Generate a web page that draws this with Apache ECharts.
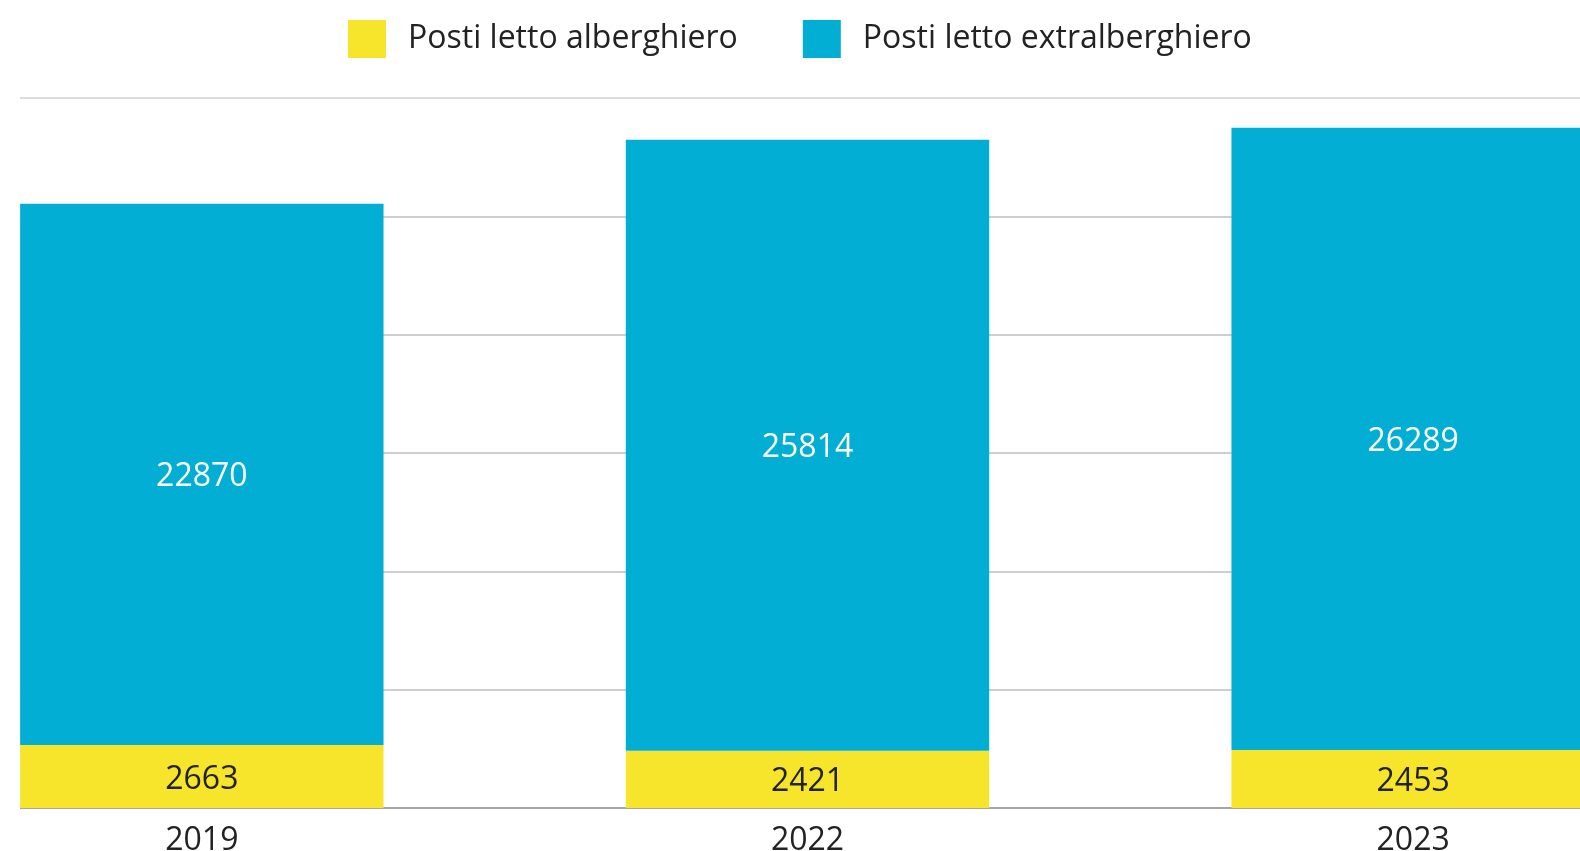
<!DOCTYPE html>
<html>
<head>
<meta charset="utf-8">
<script src="https://cdn.jsdelivr.net/npm/echarts@6/dist/echarts.min.js"></script>
<style>
  html, body { margin: 0; padding: 0; background: #fff; }
  #chart { width: 1580px; height: 851px; }
</style>
</head>
<body>
<div id="chart"></div>
<script>
// data
const years = ['2019', '2022', '2023'];
const alberghiero = [2663, 2421, 2453];
const extralberghiero = [22870, 25814, 26289];
const seriesNames = ['Posti letto alberghiero', 'Posti letto extralberghiero'];

const yellow = '#f6e52b';
const blue = '#03aed4';
const font = '"Open Sans", sans-serif';

const chart = echarts.init(document.getElementById('chart'));

chart.setOption({
  animation: false,
  legend: {
    left: 348,
    top: 20,
    padding: 0,
    itemWidth: 38,
    itemHeight: 38,
    itemGap: 65,
    icon: 'rect',
    textStyle: {
      fontFamily: font,
      fontSize: 32,
      color: '#222',
      padding: [0, 0, 0, 17]
    },
    data: seriesNames
  },
  // grid 0 only carries the horizontal lines, grid 1 holds the bars
  grid: [
    { left: 20, right: 0, top: 98, bottom: 43, outerBoundsMode: 'none' },
    { left: -101, right: -136, top: 98, bottom: 43, outerBoundsMode: 'none' }
  ],
  xAxis: [
    { type: 'value', gridIndex: 0, show: false, min: 0, max: 1 },
    {
      type: 'category',
      gridIndex: 1,
      data: years,
      axisLine: { show: false },
      axisTick: { show: false },
      axisLabel: {
        fontFamily: font,
        fontSize: 32,
        color: '#222',
        margin: 17
      }
    }
  ],
  yAxis: [
    {
      type: 'value',
      gridIndex: 0,
      min: 0,
      max: 30000,
      interval: 5000,
      axisLine: { show: false },
      axisTick: { show: false },
      axisLabel: { show: false },
      splitLine: {
        lineStyle: {
          width: 2,
          color: ['#a6a6a6', '#cfcfcf', '#cfcfcf', '#cfcfcf', '#cfcfcf', '#cfcfcf', '#dcdcdc']
        }
      }
    },
    {
      type: 'value',
      gridIndex: 1,
      min: 0,
      max: 30000,
      show: false,
      splitLine: { show: false }
    }
  ],
  series: [
    {
      name: seriesNames[0],
      type: 'bar',
      stack: 'posti',
      xAxisIndex: 1,
      yAxisIndex: 1,
      barWidth: '60%',
      itemStyle: { color: yellow },
      label: {
        show: true,
        position: 'inside',
        offset: [0, 3],
        fontFamily: font,
        fontSize: 32,
        color: '#222'
      },
      data: alberghiero
    },
    {
      name: seriesNames[1],
      type: 'bar',
      stack: 'posti',
      xAxisIndex: 1,
      yAxisIndex: 1,
      barWidth: '60%',
      itemStyle: { color: blue },
      label: {
        show: true,
        position: 'inside',
        offset: [0, 3],
        fontFamily: font,
        fontSize: 32,
        color: '#fff'
      },
      data: extralberghiero
    }
  ]
});
</script>
</body>
</html>
